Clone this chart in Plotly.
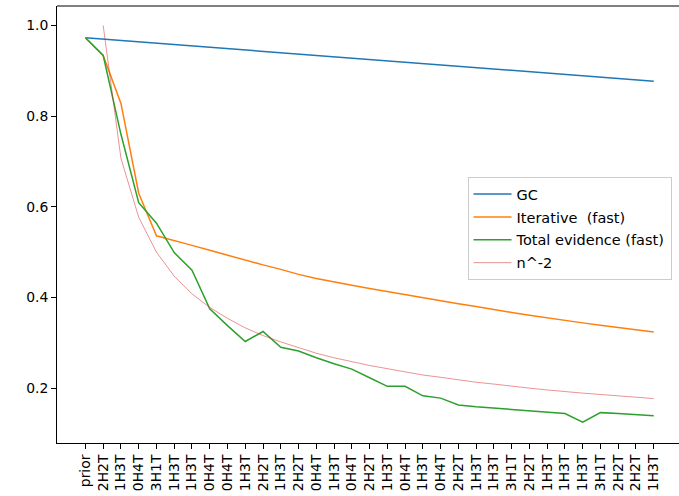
import plotly.graph_objects as go

labels = ["prior", "2H2T", "1H3T", "0H4T", "3H1T", "1H3T", "1H3T", "0H4T", "0H4T", "1H3T",
          "2H2T", "1H3T", "2H2T", "0H4T", "1H3T", "0H4T", "2H2T", "1H3T", "0H4T", "1H3T",
          "0H4T", "2H2T", "1H3T", "1H3T", "3H1T", "2H2T", "1H3T", "1H3T", "1H3T", "3H1T",
          "2H2T", "2H2T", "1H3T"]

gc = [0.973, 0.970, 0.967, 0.964, 0.961, 0.958, 0.955, 0.952, 0.949, 0.946, 0.943,
      0.940, 0.937, 0.934, 0.931, 0.928, 0.925, 0.922, 0.919, 0.916, 0.913, 0.910,
      0.907, 0.904, 0.901, 0.898, 0.895, 0.892, 0.889, 0.886, 0.883, 0.880, 0.877]

iterative = [0.973, 0.934, 0.828, 0.630, 0.536, 0.526, 0.515, 0.504, 0.493, 0.483, 0.472,
             0.462, 0.451, 0.442, 0.434, 0.427, 0.420, 0.413, 0.406, 0.399, 0.392, 0.386,
             0.380, 0.373, 0.367, 0.361, 0.355, 0.350, 0.344, 0.339, 0.334, 0.329, 0.324]

total_evidence = [0.973, 0.934, 0.760, 0.609, 0.564, 0.499, 0.460, 0.375, 0.338, 0.303, 0.325,
                  0.290, 0.282, 0.267, 0.254, 0.242, 0.223, 0.204, 0.204, 0.183, 0.178, 0.163,
                  0.159, 0.156, 0.152, 0.149, 0.147, 0.144, 0.125, 0.146, 0.144, 0.141, 0.139]

n_pow = [None, 1.000, 0.707, 0.577, 0.500, 0.447, 0.408, 0.378, 0.354, 0.333, 0.316,
         0.302, 0.289, 0.277, 0.267, 0.258, 0.250, 0.243, 0.236, 0.229, 0.224, 0.218,
         0.213, 0.209, 0.204, 0.200, 0.196, 0.192, 0.189, 0.186, 0.183, 0.180, 0.177]

x = list(range(len(labels)))

fig = go.Figure()
fig.add_trace(go.Scatter(x=x, y=gc, mode="lines", name="GC", legendgroup="a",
                         line=dict(color="#1f77b4", width=1.5)))
fig.add_trace(go.Scatter(x=x, y=iterative, mode="lines", name="Iterative  (fast)", legendgroup="b",
                         line=dict(color="#ff7f0e", width=1.5)))
fig.add_trace(go.Scatter(x=x, y=total_evidence, mode="lines", name="Total evidence (fast)",
                         legendgroup="c", line=dict(color="#2ca02c", width=1.5)))
fig.add_trace(go.Scatter(x=x, y=n_pow, mode="lines", name="n^-2", legendgroup="d",
                         line=dict(color="rgba(214,39,40,0.5)", width=1)))

W, H = 679, 496
L, T, B = 57, 5.5, 496 - 443.3
px_per_unit = 17.76
xmin = -1.6
xmax = xmin + (W - L) / px_per_unit

font = dict(family="DejaVu Sans", size=13.9, color="black")

fig.update_layout(
    width=W, height=H,
    margin=dict(l=L, r=0, t=T, b=B, pad=0),
    paper_bgcolor="white", plot_bgcolor="white",
    font=font,
    showlegend=True,
    legend=dict(x=(467.5 - L) / (W - L), y=(443.3 - 177) / (443.3 - 5.5),
                xanchor="left", yanchor="top",
                bgcolor="rgba(255,255,255,0.8)", bordercolor="#cccccc", borderwidth=1,
                font=dict(family="DejaVu Sans", size=14.5, color="black"),
                itemwidth=38, tracegroupgap=1, traceorder="grouped"),
    xaxis=dict(range=[xmin, xmax], tickvals=x, ticktext=labels, tickangle=-90,
               automargin=False,
               showgrid=False, zeroline=False, showline=True, linecolor="black", linewidth=1,
               ticks="outside", ticklen=5, tickwidth=1, tickcolor="black"),
    yaxis=dict(range=[0.079, 1.043], tickvals=[0.2, 0.4, 0.6, 0.8, 1.0],
               ticktext=["0.2", "0.4", "0.6", "0.8", "1.0"], automargin=False,
               showgrid=False, zeroline=False, showline=True, linecolor="black", linewidth=1,
               ticks="outside", ticklen=5, tickwidth=1, tickcolor="black"),
    shapes=[dict(type="line", xref="paper", yref="paper", x0=0, x1=1, y0=1, y1=1,
                 line=dict(color="black", width=1))],
)

fig.write_html("out.html", config={"displayModeBar": False},
               post_script="document.body.style.margin='0';document.body.style.overflow='hidden';")
